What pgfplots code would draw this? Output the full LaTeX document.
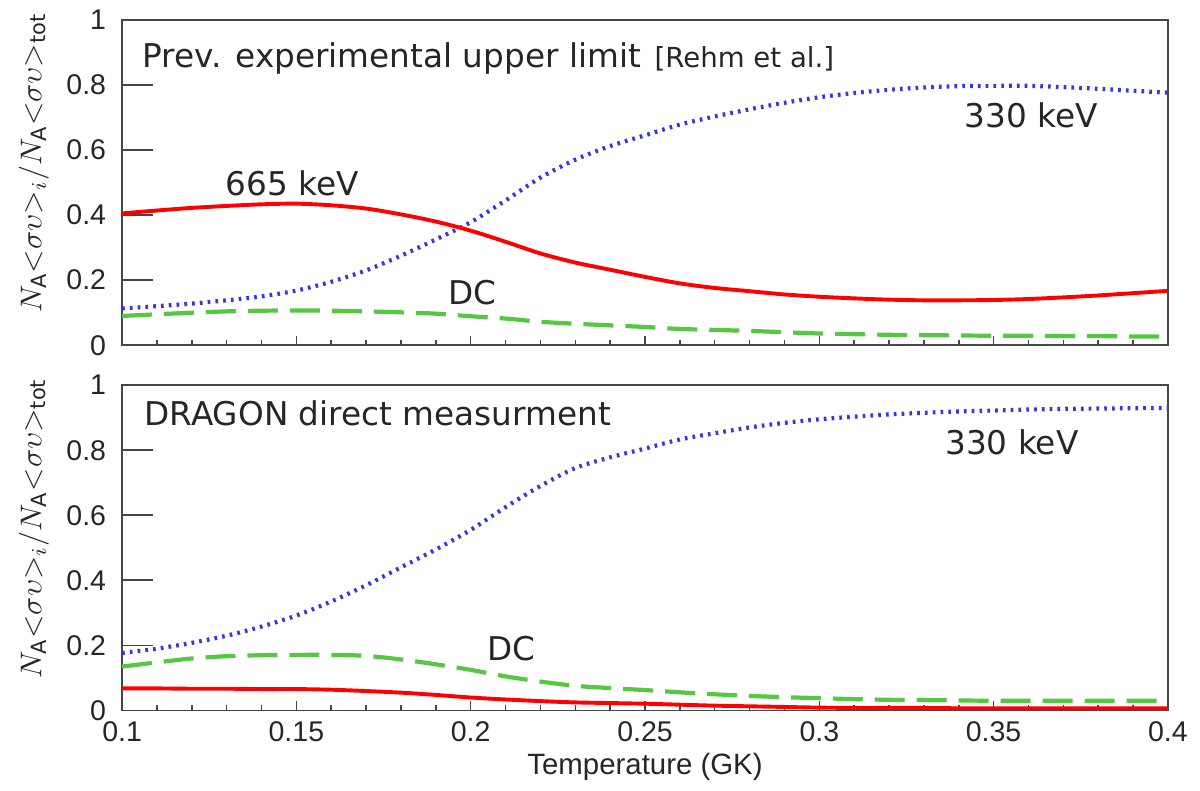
\documentclass[border=0pt]{standalone}
\usepackage{fontspec}
\setmainfont{DejaVu Sans}
\newfontfamily\ticksf{Liberation Sans}
\usepackage{pgfplots}
\pgfplotsset{compat=1.18}
\usepackage{pgfplotstable}

\definecolor{rred}{RGB}{255,0,0}
\definecolor{rgreen}{RGB}{85,200,65}
\definecolor{rblue}{RGB}{55,55,225}
\definecolor{frame}{RGB}{70,70,70}

% T (GK), 665 keV, 330 keV, DC -- previous upper limit
\pgfplotstableread{
T     r665   r330   dc
0.100 0.405 0.113 0.090
0.110 0.414 0.120 0.095
0.120 0.422 0.128 0.100
0.130 0.428 0.138 0.104
0.140 0.433 0.150 0.106
0.150 0.435 0.168 0.107
0.160 0.430 0.195 0.106
0.170 0.420 0.230 0.104
0.180 0.402 0.275 0.101
0.190 0.380 0.325 0.097
0.200 0.352 0.378 0.089
0.210 0.318 0.445 0.082
0.220 0.282 0.515 0.072
0.230 0.254 0.570 0.066
0.240 0.232 0.612 0.061
0.250 0.210 0.645 0.056
0.260 0.190 0.678 0.050
0.270 0.176 0.703 0.047
0.280 0.166 0.725 0.044
0.290 0.156 0.745 0.040
0.300 0.149 0.762 0.036
0.310 0.144 0.775 0.034
0.320 0.140 0.785 0.032
0.330 0.138 0.792 0.031
0.340 0.138 0.796 0.030
0.350 0.139 0.797 0.029
0.360 0.142 0.797 0.029
0.370 0.147 0.793 0.028
0.380 0.153 0.788 0.028
0.390 0.160 0.782 0.027
0.400 0.167 0.776 0.027
}\prevtab

% same, DRAGON direct measurement
\pgfplotstableread{
T     r665   r330   dc
0.100 0.068 0.177 0.135
0.110 0.068 0.190 0.148
0.120 0.067 0.208 0.160
0.130 0.067 0.230 0.167
0.140 0.066 0.258 0.170
0.150 0.066 0.292 0.171
0.160 0.064 0.335 0.171
0.170 0.060 0.385 0.168
0.180 0.055 0.440 0.157
0.190 0.048 0.495 0.142
0.200 0.040 0.555 0.125
0.210 0.034 0.625 0.105
0.220 0.029 0.690 0.089
0.230 0.025 0.745 0.076
0.240 0.023 0.778 0.069
0.250 0.021 0.805 0.063
0.260 0.018 0.833 0.056
0.270 0.015 0.852 0.050
0.280 0.013 0.870 0.045
0.290 0.011 0.884 0.041
0.300 0.009 0.895 0.038
0.310 0.008 0.903 0.035
0.320 0.008 0.910 0.033
0.330 0.008 0.915 0.032
0.340 0.007 0.919 0.031
0.350 0.007 0.922 0.030
0.360 0.007 0.925 0.030
0.370 0.007 0.927 0.030
0.380 0.007 0.928 0.030
0.390 0.007 0.929 0.030
0.400 0.007 0.930 0.030
}\dragtab

\tikzset{lbl/.style={font=\fontsize{10.9}{13}\selectfont, inner sep=0pt, anchor=base west, text=black!85}}

\pgfplotsset{
  panel/.style={
    scale only axis, width=348.7pt, height=108.5pt,
    xmin=0.1, xmax=0.4, ymin=0, ymax=1,
    xtick={0.1,0.15,0.2,0.25,0.3,0.35,0.4},
    minor x tick num=4,
    ytick={0,0.2,0.4,0.6,0.8,1},
    tick align=inside, tick pos=left,
    axis line style={frame, line width=0.6pt},
    xtick style={frame, line width=0.5pt, /pgfplots/major tick length=3.2pt, /pgfplots/minor tick length=1.8pt},
    ytick style={frame, line width=0.6pt, /pgfplots/major tick length=10.3pt},
    /pgf/number format/assume math mode=true,
    tick label style={font=\ticksf\fontsize{9.5}{11}\selectfont, text=black!85},
    yticklabel style={xshift=-1.8pt},
    ylabel={$N_{\mathrm{A}}{<}\sigma\upsilon{>}_{i}/N_{\mathrm{A}}{<}\sigma\upsilon{>}_{\mathrm{tot}}$},
    ylabel style={font=\fontsize{10}{12}\selectfont, text=black!85, at={(ticklabel cs:0.56)}, yshift=-1pt},
  },
  r665/.style={rred, line width=1.3pt, smooth},
  r330/.style={rblue, line width=1.4pt, smooth, dash pattern=on 0.9pt off 1.7pt},
  dc/.style={rgreen, line width=1.4pt, smooth, dash pattern=on 10pt off 4pt},
}

\begin{document}
\begin{tikzpicture}
\begin{axis}[panel, name=top, xticklabels={}]
\addplot[dc] table[x=T, y=dc] {\prevtab};
\addplot[r330] table[x=T, y=r330] {\prevtab};
\addplot[r665] table[x=T, y=r665] {\prevtab};
\node[lbl] at (axis cs:0.1057,0.853) {Prev. experimental upper limit};
\node[lbl, font=\fontsize{9.2}{11}\selectfont] at (axis cs:0.2526,0.853) {[Rehm et al.]};
\node[lbl] at (axis cs:0.1295,0.46) {665 keV};
\node[lbl] at (axis cs:0.1935,0.126) {DC};
\node[lbl] at (axis cs:0.3415,0.669) {330 keV};
\end{axis}

\begin{axis}[panel, name=bot, at={(top.south west)}, anchor=north west, yshift=-13.3pt,
  xlabel={Temperature (GK)},
  xlabel style={font=\ticksf\fontsize{9.8}{11}\selectfont, text=black!85, yshift=3pt}]
\addplot[dc] table[x=T, y=dc] {\dragtab};
\addplot[r330] table[x=T, y=r330] {\dragtab};
\addplot[r665] table[x=T, y=r665] {\dragtab};
\node[lbl] at (axis cs:0.1063,0.876) {DRAGON direct measurment};
\node[lbl] at (axis cs:0.336,0.786) {330 keV};
\node[lbl] at (axis cs:0.2047,0.155) {DC};
\end{axis}

\path ([xshift=-40.7pt,yshift=5.7pt]top.north west) rectangle ([xshift=10.7pt,yshift=-23.7pt]bot.south east);
\end{tikzpicture}
\end{document}
